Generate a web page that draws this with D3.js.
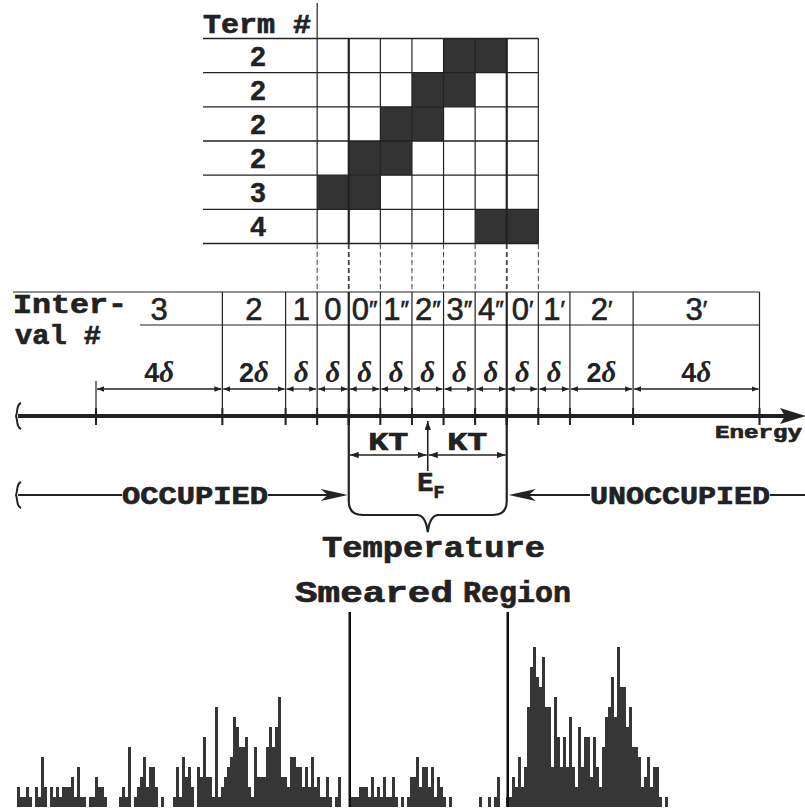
<!DOCTYPE html>
<html><head><meta charset="utf-8">
<script src="https://cdn.jsdelivr.net/npm/d3@7"></script>
<style>body{margin:0;background:#fff}</style>
</head><body>
<svg id="c" width="805" height="811"></svg>
<script>
// Energy intervals (left to right) and their widths in units of δ
const intervalNames  = ["3","2","1","0","0″","1″","2″","3″","4″","0′","1′","2′","3′"];
const intervalWidths = [4, 2, 1, 1, 1, 1, 1, 1, 1, 1, 1, 2, 4];
const widthLabels    = ["4δ","2δ","δ","δ","δ","δ","δ","δ","δ","δ","δ","2δ","4δ"];

// Term table: term numbers and the two grid columns each term covers
// (grid columns 0..6 are the intervals 0, 0″, 1″, 2″, 3″, 4″, 0′)
const termNumbers = [2, 2, 2, 2, 3, 4];
const termSpans   = [[4,5],[3,4],[2,3],[1,2],[0,1],[5,6]];

// Fermi level and thermal width, in δ units along the energy axis
const fermiLevel = 10.5;
const kT = 2.5;

// Level-spacing histogram counts (one bin per entry)
const counts = [
  2,1,1,2,1,0,2,1,5,2,  0,2,1,2,1,2,2,2,3,1,  4,1,1,0,1,1,3,2,2,1,
  0,0,0,0,1,2,1,6,0,1,  2,3,5,2,4,4,2,0,1,0,  0,0,1,4,1,5,3,4,2,0,
  4,3,7,3,3,1,10,1,2,3, 4,5,9,8,6,6,7,2,1,6,  3,3,3,6,8,6,8,11,3,3,
  2,5,5,4,4,2,4,2,5,2,  3,1,1,3,1,0,1,3,0,0,  0,1,1,1,2,2,2,1,3,1,
  2,1,3,1,1,3,1,0,1,0,  1,3,3,5,2,4,4,2,4,1,  3,2,1,0,1,0,0,0,0,0,
  0,0,0,0,1,0,0,1,0,1,  3,0,0,1,1,3,2,5,2,4,  10,14,16,13,12,15,10,10,4,11,
  7,4,7,4,9,4,2,8,4,7,  7,3,7,4,2,6,9,10,13,9, 16,12,12,8,10,6,6,5,2,3,
  5,2,4,4,1,0,1
];

const svg = d3.select("#c");
const ink = "#222";
const mono = "'Liberation Mono','DejaVu Sans Mono',monospace";
const sans = "'Liberation Sans','DejaVu Sans',sans-serif";

// bold monospace label, stretched to a given width
function label(g, txt, x0, y0, size, len) {
  return g.append("text").attr("x", x0).attr("y", y0)
    .attr("font-family", mono).attr("font-weight", "bold").attr("font-size", size)
    .attr("textLength", len).attr("lengthAdjust", "spacingAndGlyphs")
    .attr("fill", ink).attr("stroke", ink).attr("stroke-width", 0.7)
    .text(txt);
}

// ---- scales ----
const total = d3.sum(intervalWidths);
const bounds = [0, ...d3.cumsum(intervalWidths)];
const x = d3.scaleLinear().domain([0, total]).range([96, 759.5]);
const rowY = d3.scaleBand().domain(d3.range(termNumbers.length)).range([38.5, 243.5]);
const gridStart = bounds[3];           // first grid column = interval "0"
const gridCols = 7;
const gx = c => x(gridStart + c);
const lo = fermiLevel - kT, hi = fermiLevel + kT;
const thick = b => (b === lo || b === hi);

// ---- markers ----
const defs = svg.append("defs");
function marker(id, len, half) {
  defs.append("marker").attr("id", id)
    .attr("viewBox", `0 0 ${len} ${half*2}`).attr("refX", len).attr("refY", half)
    .attr("markerWidth", len).attr("markerHeight", half*2)
    .attr("markerUnits", "userSpaceOnUse").attr("orient", "auto-start-reverse")
    .append("path").attr("d", `M0,0L${len},${half}L0,${half*2}Z`).attr("fill", ink);
}
marker("sm", 7, 2.8);
marker("kt", 9, 3.2);

// ---- term table ----
const term = svg.append("g");
label(term, "Term #", 203, 33, 28, 108);

// filled cells
termSpans.forEach((s, r) => {
  term.append("rect").attr("x", gx(s[0])).attr("y", rowY(r))
    .attr("width", gx(s[1] + 1) - gx(s[0])).attr("height", rowY.bandwidth())
    .attr("fill", "#333");
});
// row lines
d3.range(termNumbers.length + 1).forEach(r => {
  const y = 38.5 + r * rowY.bandwidth();
  term.append("line").attr("x1", 203).attr("x2", gx(gridCols)).attr("y1", y).attr("y2", y)
    .attr("stroke", ink).attr("stroke-width", 1.3);
});
// column lines
d3.range(gridCols + 1).forEach(c => {
  const b = gridStart + c;
  term.append("line").attr("x1", gx(c)).attr("x2", gx(c))
    .attr("y1", c === 0 ? 3 : 38.5).attr("y2", 243.5)
    .attr("stroke", ink).attr("stroke-width", thick(b) ? 2.2 : 1.2);
  // dashed drop lines down to the interval table
  term.append("line").attr("x1", gx(c)).attr("x2", gx(c)).attr("y1", 244).attr("y2", 292)
    .attr("stroke", "#444").attr("stroke-width", thick(b) ? 1.8 : 1)
    .attr("stroke-dasharray", "5,3");
});
// term numbers
termNumbers.forEach((t, r) => {
  term.append("text").attr("x", 258).attr("y", rowY(r) + rowY.bandwidth()/2 + 10)
    .attr("text-anchor", "middle").attr("font-family", sans).attr("font-weight", "bold")
    .attr("font-size", 28).attr("fill", ink).attr("stroke", ink).attr("stroke-width", 0.4)
    .text(t);
});

// ---- interval table ----
const tab = svg.append("g");
tab.append("line").attr("x1", 13).attr("x2", x(total)).attr("y1", 292).attr("y2", 292)
  .attr("stroke", ink).attr("stroke-width", 1.2);
tab.append("line").attr("x1", 140).attr("x2", x(total)).attr("y1", 325).attr("y2", 325)
  .attr("stroke", ink).attr("stroke-width", 1.2);
bounds.forEach((b, i) => {
  tab.append("line").attr("x1", x(b)).attr("x2", x(b))
    .attr("y1", i === 0 ? 381 : 292).attr("y2", 425)
    .attr("stroke", ink).attr("stroke-width", thick(b) ? 2.2 : 1.2);
});
label(tab, "Inter-", 13, 313, 28, 114);
label(tab, "val #", 15, 344, 28, 86);

intervalNames.forEach((n, i) => {
  const cx = x((bounds[i] + bounds[i+1]) / 2);
  const t = tab.append("text").attr("x", cx).attr("y", 320).attr("text-anchor", "middle")
    .attr("font-family", sans).attr("font-size", 31).attr("fill", ink)
    .attr("stroke", ink).attr("stroke-width", 0.6);
  const digit = n[0], prime = n.slice(1);
  t.append("tspan").text(digit);
  if (prime) t.append("tspan").attr("font-size", 24).attr("dy", -2).text(prime);
});
widthLabels.forEach((w, i) => {
  const cx = x((bounds[i] + bounds[i+1]) / 2);
  const t = tab.append("text").attr("x", cx).attr("y", 382).attr("text-anchor", "middle")
    .attr("font-family", sans).attr("font-weight", "bold").attr("font-size", 27).attr("fill", ink);
  const num = w.slice(0, -1);
  if (num) t.append("tspan").text(num);
  t.append("tspan").attr("font-style", "italic").attr("font-size", 29)
    .attr("font-family", "'Liberation Serif','DejaVu Serif',serif").text("δ");
  // dimension arrow
  tab.append("line").attr("x1", x(bounds[i]) + 1).attr("x2", x(bounds[i+1]) - 1)
    .attr("y1", 389).attr("y2", 389).attr("stroke", ink).attr("stroke-width", 1.3)
    .attr("marker-start", "url(#sm)").attr("marker-end", "url(#sm)");
});

// ---- energy axis ----
const ax = svg.append("g");
const bracket = y => `M21,${y-13} C16,${y-11} 18,${y-5} 16,${y} C18,${y+5} 16,${y+11} 21,${y+13}`;
ax.append("path").attr("d", bracket(416)).attr("fill", "none").attr("stroke", ink).attr("stroke-width", 2);
ax.append("line").attr("x1", 18).attr("x2", 786).attr("y1", 416).attr("y2", 416)
  .attr("stroke", ink).attr("stroke-width", 3.8);
ax.append("path").attr("d", "M806,416 L780,408 L785,416 L780,424 Z").attr("fill", ink);
bounds.forEach(b => {
  ax.append("line").attr("x1", x(b)).attr("x2", x(b)).attr("y1", 408).attr("y2", 425)
    .attr("stroke", ink).attr("stroke-width", 2);
});
label(ax, "Energy", 715, 438, 19, 87);

// ---- thermal window around the Fermi level ----
const tw = svg.append("g");
const xl = x(lo), xr = x(hi), xf = x(fermiLevel);
tw.append("path")
  .attr("d", `M${xl},416 V501 Q${xl},515 ${xl+14},515 H${xf-10} Q${xf-2},516 ${xf},532 ` +
             `Q${xf+2},516 ${xf+10},515 H${xr-14} Q${xr},515 ${xr},501 V416`)
  .attr("fill", "none").attr("stroke", ink).attr("stroke-width", 2.2);
[[xl, xf], [xf, xr]].forEach(([a, b]) => {
  tw.append("line").attr("x1", a + 1).attr("x2", b - 1).attr("y1", 455).attr("y2", 455)
    .attr("stroke", ink).attr("stroke-width", 1.5)
    .attr("marker-start", "url(#kt)").attr("marker-end", "url(#kt)");
  label(tw, "KT", (a + b) / 2 - 20, 450, 26, 40);
});
tw.append("line").attr("x1", xf).attr("x2", xf).attr("y1", 471).attr("y2", 421)
  .attr("stroke", ink).attr("stroke-width", 1.6).attr("marker-end", "url(#kt)");
const ef = tw.append("text").attr("x", xf + 3).attr("y", 491).attr("text-anchor", "middle")
  .attr("font-family", mono).attr("font-weight", "bold").attr("font-size", 27).attr("fill", ink)
  .attr("stroke", ink).attr("stroke-width", 0.7);
ef.append("tspan").text("E");
ef.append("tspan").attr("font-size", 18).attr("dy", 7).text("F");

// occupied / unoccupied arrows
const oc = svg.append("g");
oc.append("path").attr("d", bracket(495)).attr("fill", "none").attr("stroke", ink).attr("stroke-width", 2);
oc.append("line").attr("x1", 18).attr("x2", 122).attr("y1", 495).attr("y2", 495).attr("stroke", ink).attr("stroke-width", 2);
label(oc, "OCCUPIED", 122, 504, 25, 146);
oc.append("line").attr("x1", 268).attr("x2", xl - 20).attr("y1", 495).attr("y2", 495).attr("stroke", ink).attr("stroke-width", 2);
oc.append("path").attr("d", `M${xl-1},495 L${xl-28},489 L${xl-21},495 L${xl-28},501 Z`).attr("fill", ink);
oc.append("path").attr("d", `M${xr+2},495 L${xr+29},489 L${xr+22},495 L${xr+29},501 Z`).attr("fill", ink);
oc.append("line").attr("x1", xr + 22).attr("x2", 590).attr("y1", 495).attr("y2", 495).attr("stroke", ink).attr("stroke-width", 2);
label(oc, "UNOCCUPIED", 590, 504, 25, 180);
oc.append("line").attr("x1", 770).attr("x2", 805).attr("y1", 495).attr("y2", 495).attr("stroke", ink).attr("stroke-width", 2);

// captions
label(svg, "Temperature", 322, 557, 29, 223);
label(svg, "Smeared", 295, 602, 29, 158);
label(svg, "Region", 463, 602, 29, 108);

// ---- histogram ----
const hx = d3.scaleLinear().domain([0, counts.length]).range([17, 668]);
const hy = d3.scaleLinear().domain([0, 20]).range([807, 607]);
svg.append("g").selectAll("rect").data(counts).join("rect")
  .attr("x", (d, i) => hx(i)).attr("width", hx(1) - hx(0))
  .attr("y", d => hy(d)).attr("height", d => hy(0) - hy(d))
  .attr("fill", "#363636");
[lo, hi].forEach(b => {
  svg.append("line").attr("x1", x(b) + 1).attr("x2", x(b) + 1).attr("y1", 612).attr("y2", hy(0))
    .attr("stroke", "#111").attr("stroke-width", 2.5);
});
</script>
</body></html>
